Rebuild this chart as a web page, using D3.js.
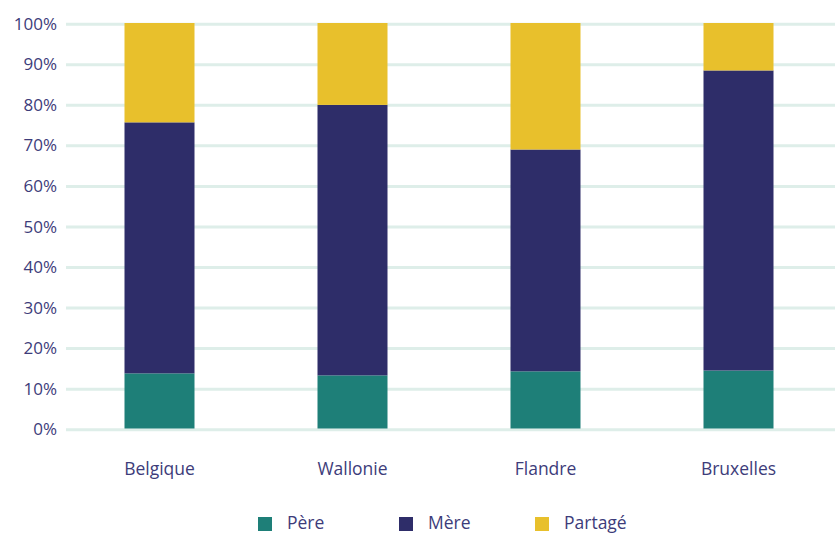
<!DOCTYPE html>
<html><head><meta charset="utf-8">
<script src="https://cdn.jsdelivr.net/npm/d3@7"></script>
<style>body{margin:0;background:#fff;} text{font-family:"Open Sans",sans-serif;fill:#3d3c7a;}</style>
</head><body><svg id="c" width="835" height="533"></svg>
<script>
const categories = ["Belgique","Wallonie","Flandre","Bruxelles"];
const pere = [13.6,13.1,14.1,14.3];
const mere = [61.9,66.7,54.7,74.0];
const partage = [24.5,20.2,31.2,11.7];
const seriesNames = ["Père","Mère","Partagé"];
const yTicks = [0,10,20,30,40,50,60,70,80,90,100];
const colors = ["#1e7f78","#2e2d69","#e8c02c"];

const svg = d3.select("#c");
const x = d3.scaleBand().domain(categories).range([63,835]);
const y = d3.scaleLinear().domain([0,100]).range([428.5,23]);
const barW = 70;

svg.append("g").selectAll("line").data(yTicks).join("line")
  .attr("x1",66).attr("x2",835)
  .attr("y1",d=>y(d)+1.2).attr("y2",d=>y(d)+1.2)
  .attr("stroke","#deeee9").attr("stroke-width",3);

svg.append("g").selectAll("text").data(yTicks).join("text")
  .attr("x",57).attr("y",d=>y(d)+0.8).attr("dy","0.35em")
  .attr("text-anchor","end").attr("font-size",17).text(d=>d+"%");

const rows = categories.map((c,i)=>({cat:c,"Père":pere[i],"Mère":mere[i],"Partagé":partage[i]}));
const stacked = d3.stack().keys(seriesNames)(rows);
svg.append("g").selectAll("g").data(stacked).join("g")
  .attr("fill",(d,i)=>colors[i])
  .selectAll("rect").data(d=>d).join("rect")
  .attr("x",d=>x(d.data.cat)+x.bandwidth()/2-barW/2)
  .attr("width",barW)
  .attr("y",d=>y(d[1]))
  .attr("height",d=>y(d[0])-y(d[1]));

svg.append("g").selectAll("text").data(categories).join("text")
  .attr("x",d=>x(d)+x.bandwidth()/2).attr("y",469).attr("dy","0.35em")
  .attr("text-anchor","middle").attr("font-size",17.5).text(d=>d);

const legX = [258,399,535];
const lg = svg.append("g").selectAll("g").data(seriesNames).join("g")
  .attr("transform",(d,i)=>`translate(${legX[i]},517)`);
lg.append("rect").attr("width",14).attr("height",14).attr("fill",(d,i)=>colors[i]);
lg.append("text").attr("x",29).attr("y",6).attr("dy","0.35em").attr("font-size",17.5).text(d=>d);
</script></body></html>
